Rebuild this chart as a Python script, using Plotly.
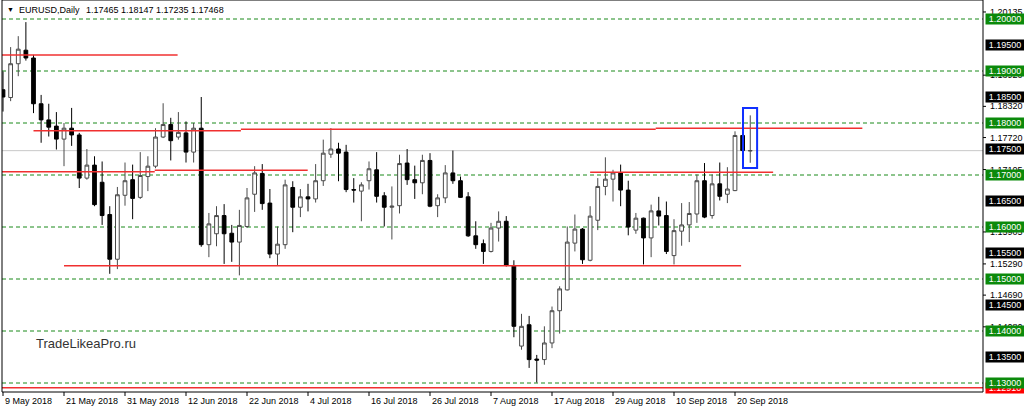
import plotly.graph_objects as go
import pandas as pd

# ---------------- data ----------------
dates = pd.bdate_range("2018-05-09", "2018-09-24")
date_text = [f"{d.day} {d.strftime('%b %Y')}" for d in dates]

opens = [1.1864, 1.1849, 1.1914, 1.1940, 1.1925, 1.1837, 1.1806, 1.1794, 1.1769, 1.1790,
         1.1777, 1.1694, 1.1719, 1.1686, 1.1624, 1.1538, 1.1661, 1.1691, 1.1657, 1.1697,
         1.1717, 1.1773, 1.1797, 1.1773, 1.1781, 1.1744, 1.1790, 1.1566, 1.1587, 1.1622,
         1.1588, 1.1571, 1.1601, 1.1663, 1.1703, 1.1646, 1.1548, 1.1566, 1.1676, 1.1638,
         1.1658, 1.1654, 1.1689, 1.1740, 1.1750, 1.1744, 1.1672, 1.1669, 1.1689, 1.1710,
         1.1660, 1.1638, 1.1641, 1.1723, 1.1691, 1.1685, 1.1728, 1.1641, 1.1656, 1.1704,
         1.1689, 1.1658, 1.1583, 1.1568, 1.1553, 1.1598, 1.1611, 1.1526, 1.1371, 1.1412,
         1.1346, 1.1345, 1.1377, 1.1439, 1.1479, 1.1569, 1.1596, 1.1536, 1.1613, 1.1678,
         1.1692, 1.1704, 1.1671, 1.1594, 1.1617, 1.1579, 1.1631, 1.1622, 1.1545, 1.1592,
         1.1604, 1.1625, 1.1689, 1.1622, 1.1683, 1.1663, 1.1670, 1.1776, 1.17465]
highs = [1.1899, 1.1946, 1.1967, 1.1994, 1.1931, 1.1854, 1.1837, 1.1821, 1.1800, 1.1829,
         1.1781, 1.1750, 1.1736, 1.1726, 1.1640, 1.1677, 1.1724, 1.1720, 1.1744, 1.1736,
         1.1790, 1.1838, 1.1810, 1.1821, 1.1803, 1.1800, 1.1850, 1.1627, 1.1640, 1.1644,
         1.1604, 1.1633, 1.1675, 1.1717, 1.1721, 1.1673, 1.1601, 1.1691, 1.1688, 1.1673,
         1.1683, 1.1721, 1.1768, 1.1790, 1.1762, 1.1758, 1.1694, 1.1686, 1.1726, 1.1744,
         1.1667, 1.1678, 1.1739, 1.1750, 1.1718, 1.1739, 1.1742, 1.1663, 1.1719, 1.1747,
         1.1697, 1.1667, 1.1611, 1.1576, 1.1608, 1.1630, 1.1621, 1.1536, 1.1433, 1.1429,
         1.1354, 1.1409, 1.1447, 1.1486, 1.1601, 1.1624, 1.1598, 1.1640, 1.1694, 1.1734,
         1.1710, 1.1720, 1.1689, 1.1627, 1.1618, 1.1643, 1.1658, 1.1649, 1.1615, 1.1646,
         1.1648, 1.1701, 1.1723, 1.1701, 1.1724, 1.1715, 1.1784, 1.1803, 1.18147]
lows = [1.1822, 1.1842, 1.1890, 1.1920, 1.1819, 1.1762, 1.1774, 1.1749, 1.1717, 1.1756,
        1.1675, 1.1691, 1.1640, 1.1604, 1.1510, 1.1519, 1.1641, 1.1615, 1.1654, 1.1669,
        1.1713, 1.1771, 1.1728, 1.1768, 1.1724, 1.1724, 1.1562, 1.1542, 1.1563, 1.1529,
        1.1533, 1.1507, 1.1598, 1.1629, 1.1633, 1.1540, 1.1526, 1.1558, 1.1590, 1.1619,
        1.1630, 1.1647, 1.1679, 1.1733, 1.1688, 1.1667, 1.1647, 1.1611, 1.1672, 1.1647,
        1.1601, 1.1576, 1.1626, 1.1681, 1.1654, 1.1663, 1.1638, 1.1619, 1.1646, 1.1683,
        1.1656, 1.1581, 1.1558, 1.1529, 1.1551, 1.1572, 1.1524, 1.1388, 1.1364, 1.1329,
        1.1301, 1.1335, 1.1367, 1.1395, 1.1478, 1.1553, 1.1529, 1.1534, 1.1594, 1.1661,
        1.1649, 1.1640, 1.1584, 1.1587, 1.1528, 1.1542, 1.1603, 1.1548, 1.1528, 1.1564,
        1.1571, 1.1608, 1.1617, 1.1616, 1.1651, 1.1646, 1.1669, 1.1731, 1.17235]
closes = [1.1850, 1.1914, 1.1942, 1.1925, 1.1837, 1.1806, 1.1792, 1.1769, 1.1790, 1.1777,
          1.1694, 1.1719, 1.1643, 1.1622, 1.1538, 1.1662, 1.1689, 1.1655, 1.1699, 1.1717,
          1.1773, 1.1797, 1.1766, 1.1782, 1.1744, 1.1790, 1.1566, 1.1606, 1.1622, 1.1587,
          1.1571, 1.1603, 1.1656, 1.1704, 1.1645, 1.1548, 1.1567, 1.1681, 1.1638, 1.1658,
          1.1654, 1.1689, 1.1742, 1.1750, 1.1742, 1.1672, 1.1671, 1.1681, 1.1712, 1.1659,
          1.1638, 1.1640, 1.1722, 1.1691, 1.1685, 1.1728, 1.1640, 1.1656, 1.1704, 1.1689,
          1.1657, 1.1583, 1.1566, 1.1553, 1.1598, 1.1611, 1.1526, 1.1409, 1.1409, 1.1345,
          1.1344, 1.1377, 1.1439, 1.1481, 1.1571, 1.1596, 1.1537, 1.1621, 1.1678, 1.1692,
          1.1704, 1.1671, 1.1600, 1.1617, 1.1579, 1.1631, 1.1621, 1.1553, 1.1593, 1.1604,
          1.1626, 1.1689, 1.1619, 1.1683, 1.1659, 1.1673, 1.1776, 1.1747, 1.17468]

symbol = "EURUSD,Daily"
header_prices = "1.17465 1.18147 1.17235 1.17468"
bid = 1.17468

date_label_every = 8
round_levels = [1.20, 1.19, 1.18, 1.17, 1.16, 1.15, 1.14, 1.13]          # green
half_levels = [1.195, 1.185, 1.175, 1.165, 1.155, 1.145, 1.135]           # black labels
scale_labels = [1.20135, 1.18920, 1.18320, 1.17720, 1.17105, 1.15905, 1.15290, 1.14690, 1.14080]
red_level_price = 1.12910
# drawn support/resistance segments: (start bar, end bar, price)
red_segments = [(-1.0, 22.9, 1.19308),
                (4.0, 31.2, 1.17852), (31.2, 85.6, 1.17879), (85.6, 112.7, 1.17898),
                (-1.0, 19.9, 1.17064), (19.9, 39.96, 1.17090),
                (77.0, 101.0, 1.17052),
                (8.0, 96.8, 1.15256)]
blue_box = (97.05, 98.9, 1.17135, 1.18288)
watermark = "TradeLikeaPro.ru"

# ---------------- geometry helpers ----------------
W, H = 1024, 412
PL, PR, PT, PB = 2, 983, 0, 392         # plot area in pixels
X0 = -1 / 7.625
X1 = (PR - 3) / 7.625
Y_TOP = 1.20 + 19 / 5200
Y_BOT = 1.20 - (PB - 19) / 5200


def px_x(p):
    return (p - PL) / (PR - PL)


def px_y(p):
    return (PB - p) / (PB - PT)


FONT = "Liberation Sans, Arial, sans-serif"
xs = list(range(len(dates)))

fig = go.Figure()
fig.add_trace(go.Candlestick(
    x=xs, open=opens, high=highs, low=lows, close=closes,
    increasing=dict(line=dict(color="#4a4a4a", width=1), fillcolor="#ffffff"),
    decreasing=dict(line=dict(color="#000000", width=1), fillcolor="#000000"),
    whiskerwidth=0, hoverinfo="skip", showlegend=False,
))

shapes = []
for lv in round_levels:
    shapes.append(dict(type="line", xref="paper", x0=0, x1=1, yref="y", y0=lv, y1=lv,
                       line=dict(color="#1a8a1a", width=1, dash="4px,3px"), layer="below"))
shapes.append(dict(type="line", xref="paper", x0=0, x1=1, yref="y", y0=bid, y1=bid,
                   line=dict(color="#c8c8c8", width=1), layer="below"))
shapes.append(dict(type="line", xref="paper", x0=0, x1=1, yref="y", y0=red_level_price,
                   y1=red_level_price, line=dict(color="#f03030", width=1.5)))
for a, b, p in red_segments:
    shapes.append(dict(type="line", xref="x", x0=a, x1=b, yref="y", y0=p, y1=p,
                       line=dict(color="#f03030", width=1.5)))
bx0, bx1, by0, by1 = blue_box
shapes.append(dict(type="rect", xref="x", x0=bx0, x1=bx1, yref="y", y0=by0, y1=by1,
                   line=dict(color="#1030ff", width=2), fillcolor="rgba(0,0,0,0)"))
shapes.append(dict(type="rect", xref="paper", x0=0, x1=1, yref="paper", y0=0, y1=1,
                   line=dict(color="#000000", width=1)))
for i in range(0, len(dates), date_label_every):
    shapes.append(dict(type="line", xref="x", x0=i, x1=i, yref="paper", y0=0, y1=px_y(PB + 4),
                       line=dict(color="#000000", width=1)))
for lv in scale_labels:
    shapes.append(dict(type="line", xref="paper", x0=1, x1=px_x(PR + 3), yref="y", y0=lv, y1=lv,
                       line=dict(color="#000000", width=1)))

ann = []
ann.append(dict(text="\u25BC", xref="paper", yref="paper", x=px_x(5), y=px_y(10),
                xanchor="left", yanchor="middle", showarrow=False,
                font=dict(family=FONT, size=7, color="#000000")))
ann.append(dict(text=symbol, xref="paper", yref="paper", x=px_x(17), y=px_y(10),
                xanchor="left", yanchor="middle", showarrow=False,
                font=dict(family=FONT, size=9, color="#000000")))
ann.append(dict(text=header_prices, xref="paper", yref="paper", x=px_x(84), y=px_y(10),
                xanchor="left", yanchor="middle", showarrow=False,
                font=dict(family=FONT, size=9, color="#000000")))
ann.append(dict(text=watermark, xref="paper", yref="paper", x=px_x(34), y=px_y(343),
                xanchor="left", yanchor="middle", showarrow=False,
                font=dict(family=FONT, size=13, color="#333333")))
for i in range(0, len(dates), date_label_every):
    ann.append(dict(text=date_text[i], xref="x", yref="paper", x=i, y=px_y(401),
                    xanchor="left", yanchor="middle", showarrow=False,
                    font=dict(family=FONT, size=9, color="#000000")))
for lv in scale_labels:
    ann.append(dict(text=f"{lv:.5f}", xref="paper", yref="y", x=px_x(988), y=lv,
                    xanchor="left", yanchor="middle", showarrow=False,
                    font=dict(family=FONT, size=9, color="#000000")))
ann.append(dict(text=f"{red_level_price:.5f}", xref="paper", yref="y", x=px_x(985), y=red_level_price,
                xanchor="left", yanchor="middle", showarrow=False, width=38, height=10,
                bgcolor="#ff0000", borderpad=0,
                font=dict(family=FONT, size=9, color="#ffffff")))
for lv in half_levels:
    ann.append(dict(text=f"{lv:.5f}", xref="paper", yref="y", x=px_x(985), y=lv,
                    xanchor="left", yanchor="middle", showarrow=False, width=38, height=10,
                    bgcolor="#000000", borderpad=0,
                    font=dict(family=FONT, size=9, color="#ffffff")))
for lv in round_levels:
    ann.append(dict(text=f"{lv:.5f}", xref="paper", yref="y", x=px_x(985), y=lv,
                    xanchor="left", yanchor="middle", showarrow=False, width=38, height=10,
                    bgcolor="#0b8a0b", borderpad=0,
                    font=dict(family=FONT, size=9, color="#ffffff")))

fig.update_layout(
    width=W, height=H,
    margin=dict(l=PL, r=W - PR, t=PT, b=H - PB, autoexpand=False),
    paper_bgcolor="#ffffff", plot_bgcolor="#ffffff",
    shapes=shapes, annotations=ann, showlegend=False,
    xaxis=dict(range=[X0, X1], showgrid=False, zeroline=False, showticklabels=False,
               ticks="", rangeslider=dict(visible=False), fixedrange=True),
    yaxis=dict(range=[Y_BOT, Y_TOP], showgrid=False, zeroline=False, showticklabels=False,
               ticks="", fixedrange=True),
)

fig.write_html("out.html", config={"displayModeBar": False},
               post_script="document.body.style.margin='0';document.body.style.overflow='hidden';")
